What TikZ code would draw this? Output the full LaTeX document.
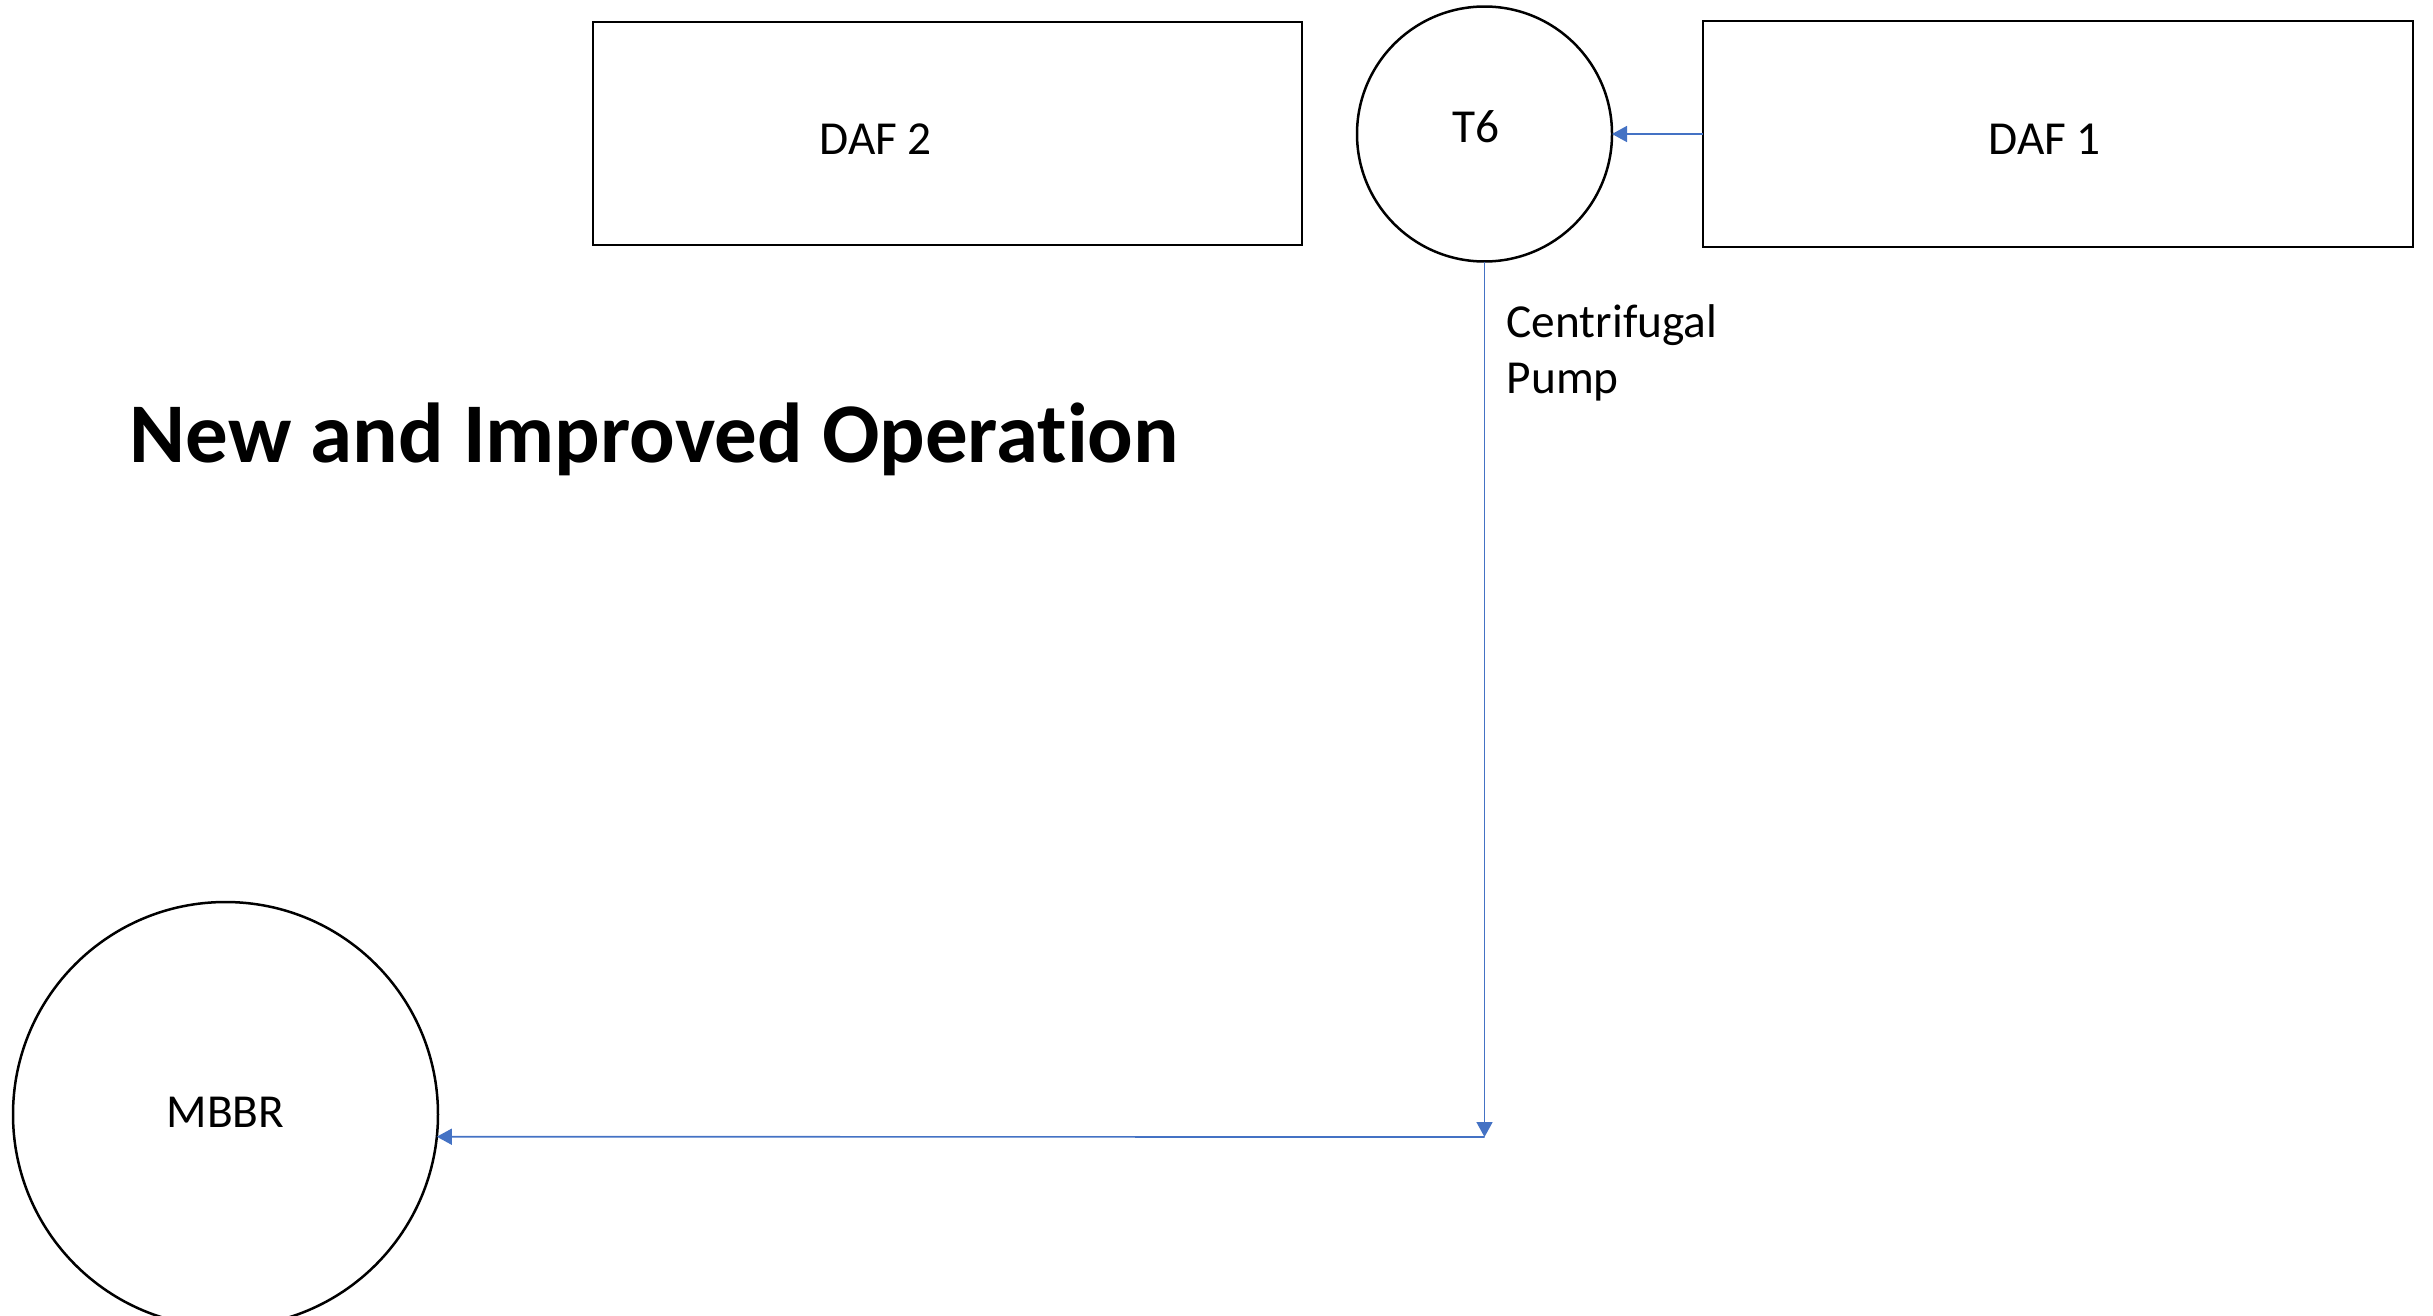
\documentclass[tikz,border=0pt]{standalone}
\usepackage{fontspec}
\setmainfont[Ligatures=NoCommon]{Carlito}
\usetikzlibrary{arrows.meta}
\definecolor{flowblue}{HTML}{4472C4}
\begin{document}
\begin{tikzpicture}[x=0.3pt,y=-0.3pt,
  unit/.style={draw=black,line width=0.75pt,inner sep=0pt,outer sep=0pt,fill=white},
  tank/.style={unit,circle},
  basin/.style={unit,rectangle},
  lbl/.style={anchor=base west,inner sep=0pt,font=\fontsize{14.2}{17}\selectfont},
  flow/.style={draw=flowblue,line width=0.5pt,-{Triangle[length=4.5pt,width=4.8pt]}}]
  \useasboundingbox (0,0) rectangle (2433,1315);

  % units
  \node[basin,minimum width=212.7pt,minimum height=66.9pt] (daf2) at (947.5,133.5) {};
  \node[basin,minimum width=213pt,minimum height=67.8pt] (daf1) at (2058,134) {};
  \node[tank,minimum size=76.5pt] (t6) at (1484.5,134) {};
  \node[tank,minimum size=127.5pt] (mbbr) at (225.5,1114.5) {};

  % unit labels
  \node[lbl] (daf2txt) at (819,154) {DAF 2};
  \node[lbl] (daf1txt) at (1988,154) {DAF 1};
  \node[lbl] (t6txt) at (1452,142) {T6};
  \node[lbl] (mbbrtxt) at (166,1127) {MBBR};
  \node[lbl] (pumpa) at (1506,337) {Centrifugal};
  \node[lbl] (pumpb) at (1506,393) {Pump};

  % heading
  \node[anchor=base west,inner sep=0pt,font=\fontsize{25.5}{30}\selectfont\bfseries] (title) at (129,462) {New and Improved Operation};

  % flow lines
  \coordinate (bend) at (1484.5,1137);
  \draw[flow] (daf1.west) -- (t6.east);
  \draw[flow] (t6.south) -- (bend);
  \draw[flow] (bend) -- (mbbr.-6.1);
\end{tikzpicture}
\end{document}
